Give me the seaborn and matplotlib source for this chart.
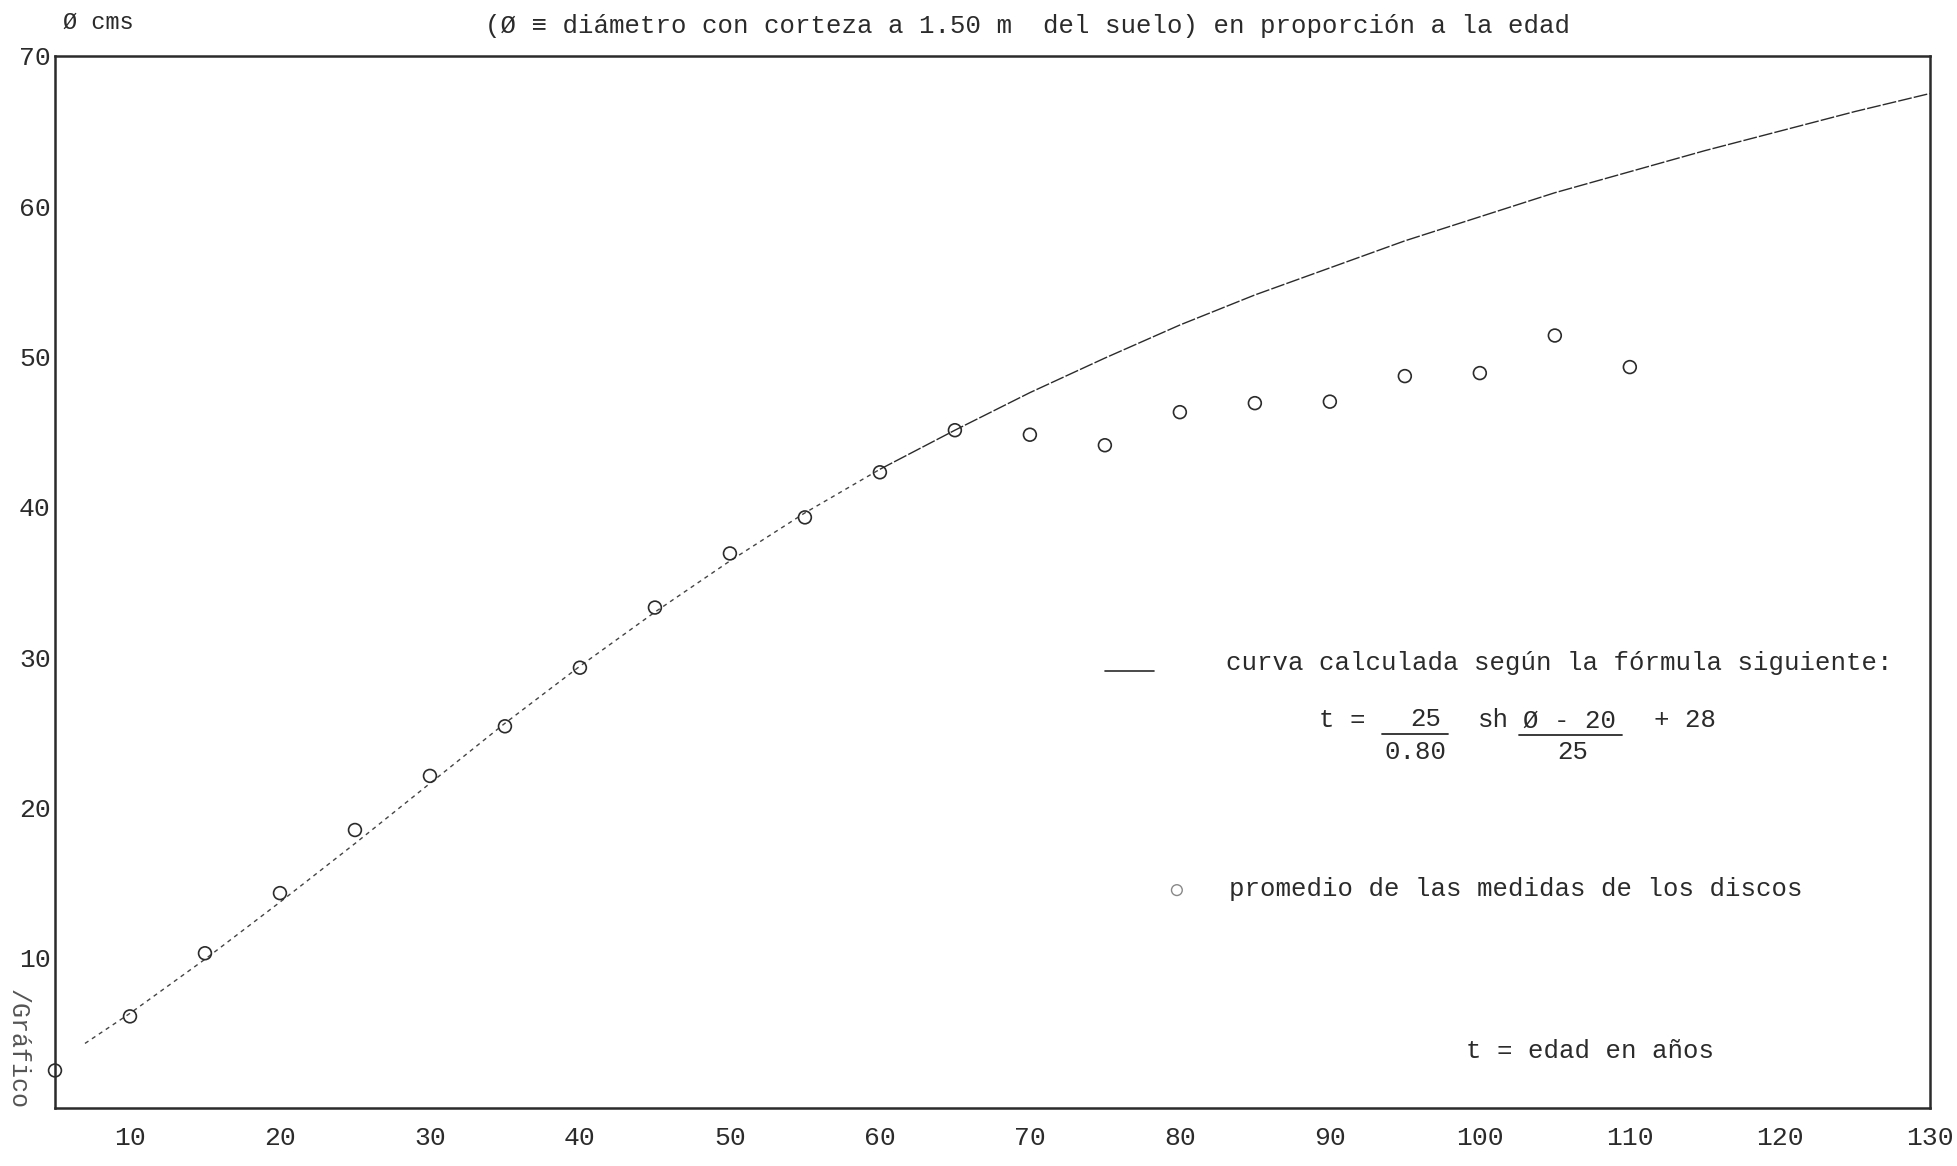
import numpy as np
import pandas as pd
import matplotlib
matplotlib.use("Agg")
import matplotlib.pyplot as plt
import seaborn as sns

# valores
curve_t = [7, 10, 15, 20, 25, 30, 35, 40, 45, 50, 55, 60, 65, 70, 75, 80, 85,
           90, 95, 100, 105, 110, 115, 120, 125, 130]
curve_d = [4.3, 6.3, 9.9, 13.7, 17.6, 21.6, 25.6, 29.4, 33.0, 36.4, 39.6, 42.5,
           45.1, 47.6, 49.9, 52.1, 54.1, 55.9, 57.7, 59.3, 60.9, 62.3, 63.7,
           65.0, 66.3, 67.5]

disc_t = [5, 10, 15, 20, 25, 30, 35, 40, 45, 50, 55, 60, 65, 70, 75, 80, 85,
          90, 95, 100, 105, 110]
disc_d = [2.5, 6.1, 10.3, 14.3, 18.5, 22.1, 25.4, 29.3, 33.3, 36.9, 39.3, 42.3,
          45.1, 44.8, 44.1, 46.3, 46.9, 47.0, 48.7, 48.9, 51.4, 49.3]

x_ticks = list(range(10, 131, 10))
y_ticks = list(range(10, 71, 10))

INK = "#2b2b2b"
FS = 18.5

sns.set_style("white")
plt.rcParams["font.family"] = ["Liberation Mono", "DejaVu Sans Mono"]

curve = pd.DataFrame({"t": curve_t, "d": curve_d})
discs = pd.DataFrame({"t": disc_t, "d": disc_d})

fig = plt.figure(figsize=(19.57, 11.66), dpi=100)
ax = fig.add_axes([0.0281, 0.0497, 0.958, 0.9023])

# curva: punteada en el tramo bajo, casi continua arriba
low = curve[curve.t <= 60]
high = curve[curve.t >= 60]
sns.lineplot(data=low, x="t", y="d", ax=ax, color="#444444", lw=1.0,
             linestyle=(0, (3, 3)))
sns.lineplot(data=high, x="t", y="d", ax=ax, color=INK, lw=1.0,
             linestyle=(0, (10, 1.5)))

sns.scatterplot(data=discs, x="t", y="d", ax=ax, s=85, marker="o",
                facecolor="none", edgecolor=INK, linewidth=1.2, clip_on=False,
                zorder=5)

ax.set_xlim(5, 130)
ax.set_ylim(0, 70)
ax.set_xticks(x_ticks)
ax.set_yticks(y_ticks)
ax.set_xticklabels([str(v) for v in x_ticks])
ax.set_yticklabels([str(v) for v in y_ticks])
ax.tick_params(axis="both", direction="inout", length=10, width=1.3,
               colors=INK, labelsize=19)
ax.tick_params(axis="x", pad=8)
ax.tick_params(axis="y", pad=-2)
ax.set_xlabel("")
ax.set_ylabel("")
for s in ax.spines.values():
    s.set_visible(True)
    s.set_color(INK)
    s.set_linewidth(1.8)

# titulo y unidades
fig.text(0.525, 0.978, "(\u00d8 \u2261 di\u00e1metro con corteza a 1.50 m  del suelo) "
         "en proporci\u00f3n a la edad", ha="center", va="center",
         fontsize=FS, color=INK)
fig.text(0.032, 0.981, "\u00d8 cms", ha="left", va="center", fontsize=17,
         color=INK)
fig.text(0.009, 0.152, "/Gr\u00e1fico", rotation=-90, ha="center", va="top",
         fontsize=18, color="#555555")

# leyenda escrita a maquina
ax.plot([75.0, 78.3], [29.1, 29.1], color=INK, lw=1.2)
ax.text(83.1, 29.6, "curva calculada seg\u00fan la f\u00f3rmula siguiente:",
        fontsize=FS, color=INK, ha="left", va="center")

# formula: t = 25/0.80 sh (Ø - 20)/25 + 28
ax.text(89.3, 25.8, "t =", fontsize=FS, color=INK, ha="left", va="center")
ax.text(96.4, 25.9, "25", fontsize=FS, color=INK, ha="center", va="center")
ax.plot([93.5, 97.9], [24.9, 24.9], color=INK, lw=1.3)
ax.text(95.7, 23.7, "0.80", fontsize=FS, color=INK, ha="center", va="center")
ax.text(100.9, 25.8, "sh", fontsize=FS, color=INK, ha="center", va="center")
ax.text(106.0, 25.8, "\u00d8 - 20", fontsize=FS, color=INK, ha="center",
        va="center")
ax.plot([102.6, 109.5], [24.8, 24.8], color=INK, lw=1.3)
ax.text(106.2, 23.7, "25", fontsize=FS, color=INK, ha="center", va="center")
ax.text(111.6, 25.8, "+ 28", fontsize=FS, color=INK, ha="left", va="center")

ax.scatter([79.8], [14.5], s=60, facecolor="none", edgecolor="#888888",
           linewidth=1.0)
ax.text(83.3, 14.6, "promedio de las medidas de los discos", fontsize=FS,
        color=INK, ha="left", va="center")
ax.text(99.1, 3.8, "t = edad en a\u00f1os", fontsize=FS, color=INK,
        ha="left", va="center")

fig.savefig("out.png", dpi=100)
